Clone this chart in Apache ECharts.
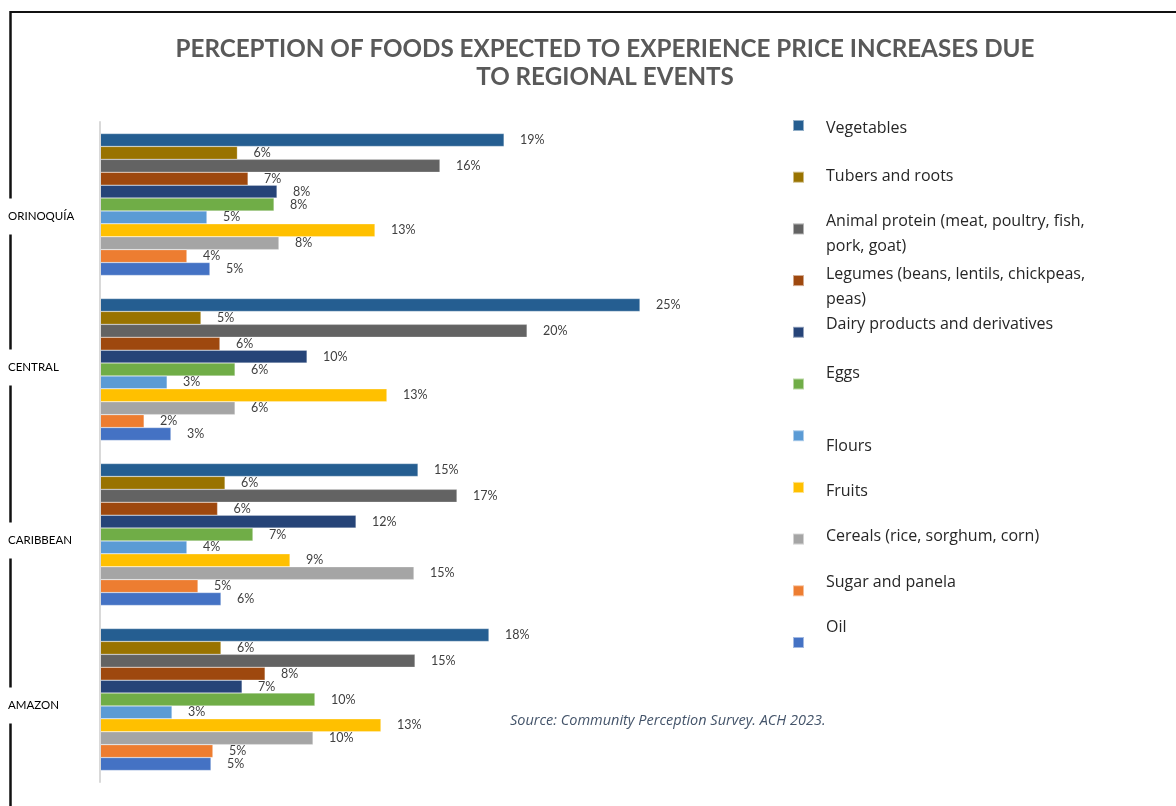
<!DOCTYPE html>
<html>
<head>
<meta charset="utf-8">
<title>Perception of foods expected to experience price increases</title>
<script src="https://cdn.jsdelivr.net/npm/echarts@6/dist/echarts.min.js"></script>
<style>
  html, body { margin: 0; padding: 0; background: #fff; }
  #chart { width: 1176px; height: 806px; }
</style>
</head>
<body>
<div id="chart"></div>
<script>
// Regions (category axis, top to bottom)
const regions = ['ORINOQUÍA', 'CENTRAL', 'CARIBBEAN', 'AMAZON'];

// Share of respondents (%) per food group, one value per region
const vegetables = [18.97, 25.35, 14.93, 18.26];
const tubersRoots = [6.45, 4.74, 5.87, 5.68];
const animalProtein = [15.96, 20.05, 16.76, 14.79];
const legumes = [6.95, 5.63, 5.52, 7.75];
const dairy = [8.31, 9.72, 12.02, 6.67];
const eggs = [8.17, 6.34, 7.18, 10.09];
const flours = [5.02, 3.15, 4.08, 3.38];
const fruits = [12.91, 13.47, 8.92, 13.19];
const cereals = [8.40, 6.34, 14.74, 10.00];
const sugarPanela = [4.08, 2.07, 4.60, 5.30];
const oil = [5.16, 3.33, 5.68, 5.21];

const seriesNames = [
  'Vegetables',
  'Tubers and roots',
  'Animal protein (meat, poultry, fish, pork, goat)',
  'Legumes (beans, lentils, chickpeas, peas)',
  'Dairy products and derivatives',
  'Eggs',
  'Flours',
  'Fruits',
  'Cereals (rice, sorghum, corn)',
  'Sugar and panela',
  'Oil'
];
const seriesValues = [vegetables, tubersRoots, animalProtein, legumes, dairy, eggs,
  flours, fruits, cereals, sugarPanela, oil];

const colors = ['#255E91', '#997300', '#636363', '#9E480E', '#264478', '#70AD47',
  '#5B9BD5', '#FFC000', '#A5A5A5', '#ED7D31', '#4472C4'];

// Legend line breaks for the long names
const legendText = {
  'Animal protein (meat, poultry, fish, pork, goat)': 'Animal protein (meat, poultry, fish,\npork, goat)',
  'Legumes (beans, lentils, chickpeas, peas)': 'Legumes (beans, lentils, chickpeas,\npeas)'
};
// Vertical nudge of each legend label relative to its swatch (px)
const legendNudge = [3, -1, 5, 6, -7.5, -10.5, 10.5, 4, -2.5, -8.5, -15];
// Vertical nudge of each region label relative to its band centre (px)
const regionNudge = { 'ORINOQUÍA': 12, 'CENTRAL': -2, 'CARIBBEAN': 6, 'AMAZON': 6 };

const ITEM_H = 64;     // uniform legend item block height
const LINE_H = 25;
const SWATCH_STEP = 51.7;

// Legend labels: rich text with spacer lines above / below to nudge the label
const legendRich = {
  t: { fontFamily: 'Open Sans', fontSize: 16, lineHeight: LINE_H, color: '#262626' }
};
const legendLabel = {};
seriesNames.forEach((name, i) => {
  const lines = (legendText[name] || name).split('\n');
  const free = ITEM_H - lines.length * LINE_H;
  const n = Math.max(-free / 2, Math.min(free / 2, legendNudge[i]));
  const a = free / 2 + n;
  const b = free / 2 - n;
  let s = '';
  if (a >= 1) {
    legendRich['s' + i + 'a'] = { height: a, lineHeight: a, fontSize: 1 };
    s += `{s${i}a| }\n`;
  }
  s += lines.map(l => `{t|${l}}`).join('\n');
  if (b >= 1) {
    legendRich['s' + i + 'b'] = { height: b, lineHeight: b, fontSize: 1 };
    s += `\n{s${i}b| }`;
  }
  legendLabel[name] = s;
});

// Region labels: white box that interrupts the frame line
const axisRich = {
  name: {
    fontFamily: 'Lato', fontSize: 11.5, color: '#000',
    height: 36, lineHeight: 36, backgroundColor: '#fff', padding: [0, 3]
  }
};
Object.keys(regionNudge).forEach(k => {
  const h = Math.max(1, Math.abs(regionNudge[k]) * 2);
  axisRich['g' + h] = { height: h, lineHeight: h, fontSize: 1 };
});

const chart = echarts.init(document.getElementById('chart'), null, { renderer: 'canvas' });

chart.setOption({
  backgroundColor: '#fff',
  animation: false,
  title: {
    text: 'PERCEPTION OF FOODS EXPECTED TO EXPERIENCE PRICE INCREASES DUE\nTO REGIONAL EVENTS',
    left: 600,
    top: 30,
    textAlign: 'center',
    textStyle: {
      fontFamily: 'Lato', fontWeight: 'bold', fontSize: 24.2, lineHeight: 28, color: '#595959'
    }
  },
  legend: {
    orient: 'vertical',
    left: 792,
    top: 120 - (ITEM_H / 2 - 5.5),
    padding: 0,
    itemGap: SWATCH_STEP - ITEM_H,
    itemWidth: 11,
    itemHeight: 11,
    icon: 'rect',
    selectedMode: false,
    data: seriesNames,
    formatter: name => legendLabel[name],
    textStyle: { padding: [0, 0, 0, 17], rich: legendRich }
  },
  grid: { left: 100, top: 122, width: 639, height: 660, containLabel: false },
  xAxis: {
    type: 'value', min: 0, max: 30, show: false
  },
  yAxis: {
    type: 'category',
    data: regions,
    inverse: true,
    z: 10,
    axisLine: { show: true, lineStyle: { color: '#D9D9D9', width: 2 } },
    axisTick: { show: false },
    axisLabel: {
      align: 'left',
      margin: 95,
      formatter: v => {
        const s = regionNudge[v] || 0;
        const g = 'g' + Math.max(1, Math.abs(s) * 2);
        return s >= 0 ? `{${g}| }\n{name|${v}}` : `{name|${v}}\n{${g}| }`;
      },
      rich: axisRich
    }
  },
  series: seriesNames.map((name, i) => ({
    name,
    type: 'bar',
    data: seriesValues[i],
    barGap: '0%',
    barCategoryGap: '14%',
    itemStyle: { color: colors[i], borderColor: 'rgba(255,255,255,0.5)', borderWidth: 0.5 },
    label: {
      show: true,
      position: 'right',
      distance: 16,
      formatter: p => Math.round(p.value) + '%',
      fontFamily: 'Lato', fontSize: 12.5, color: '#404040'
    }
  })),
  graphic: [
    {
      type: 'line', z: 0, silent: true,
      shape: { x1: 10, y1: 12, x2: 1176, y2: 12 },
      style: { stroke: '#111', lineWidth: 2 }
    },
    {
      type: 'line', z: 0, silent: true,
      shape: { x1: 10.5, y1: 11, x2: 10.5, y2: 806 },
      style: { stroke: '#111', lineWidth: 2.5 }
    },
    {
      type: 'text', silent: true,
      left: 510, top: 713,
      style: {
        text: 'Source: Community Perception Survey. ACH 2023.',
        fontFamily: 'Open Sans', fontStyle: 'italic', fontSize: 14.5, fill: '#44546A'
      }
    }
  ]
});
</script>
</body>
</html>
